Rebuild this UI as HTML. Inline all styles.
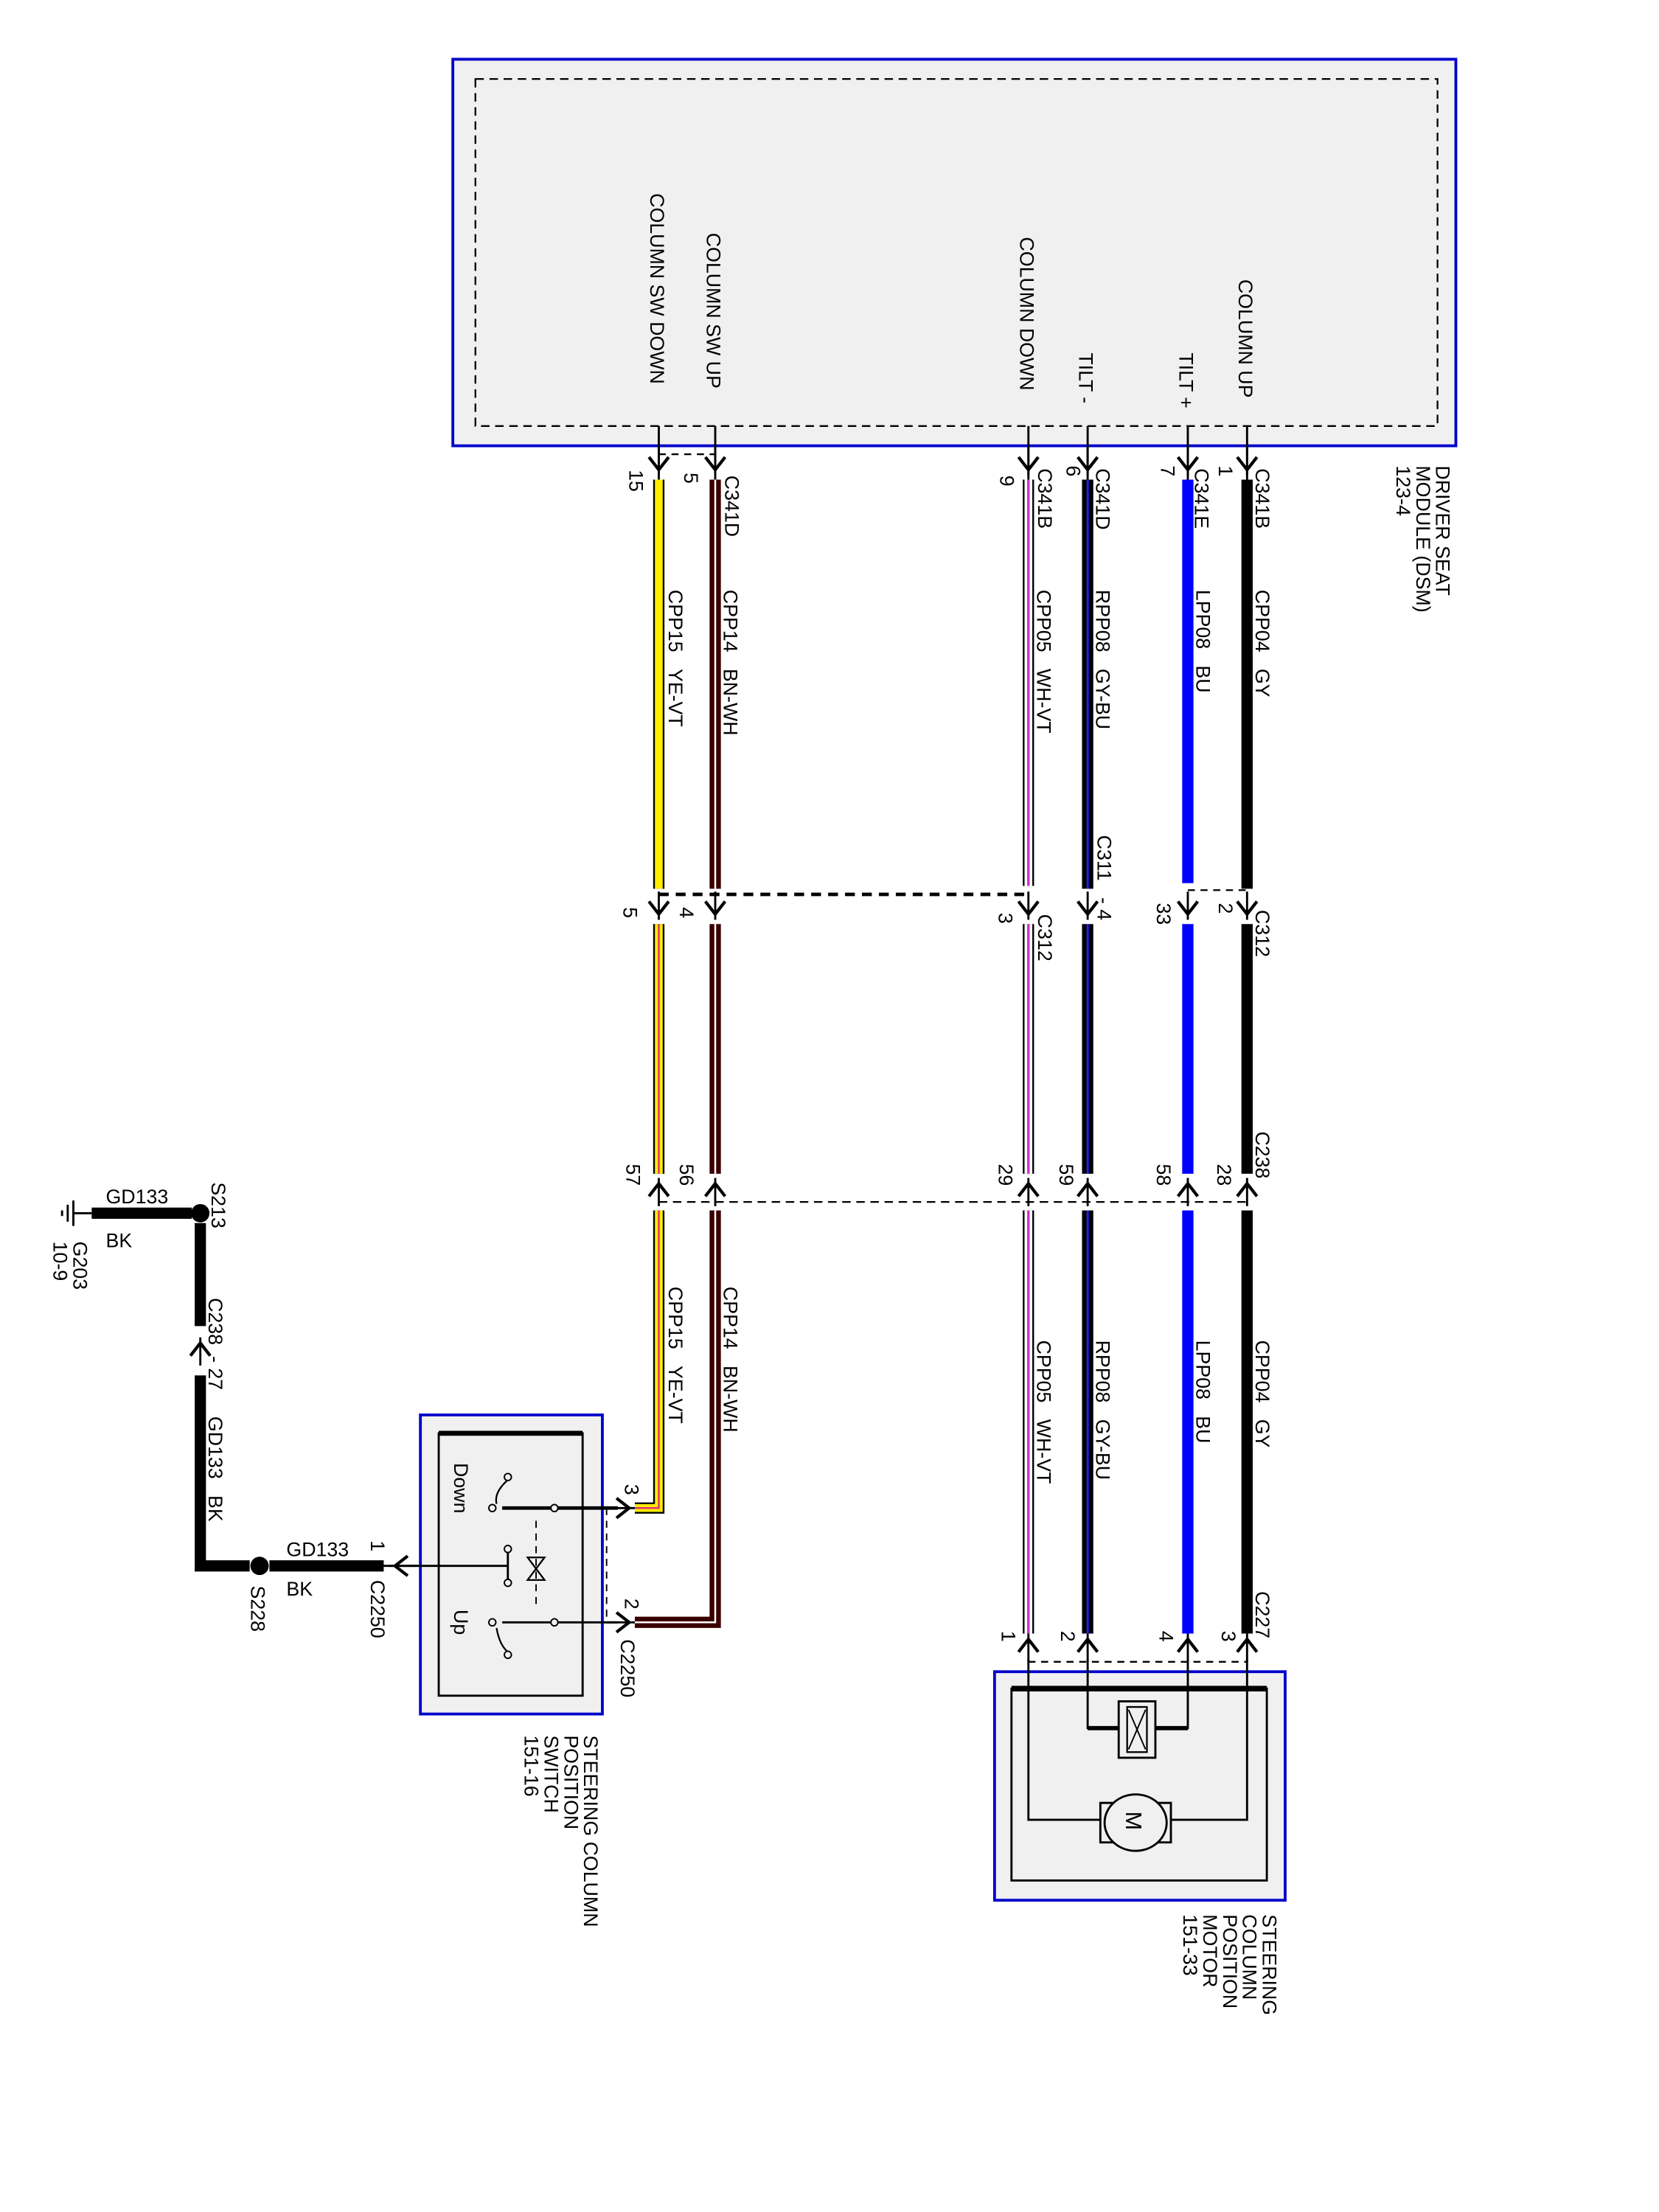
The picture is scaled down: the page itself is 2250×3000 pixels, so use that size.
<!DOCTYPE html>
<html><head><meta charset="utf-8"><style>
html,body{margin:0;padding:0;background:#fff}
svg{display:block}
text{font-family:"Liberation Sans",Arial,sans-serif;font-size:14px;fill:#000}
</style></head><body>
<svg width="2250" height="3000" viewBox="0 0 1176 1568" preserveAspectRatio="none" xmlns="http://www.w3.org/2000/svg">
<defs>
<g id="ad"><line x1="0" y1="-10" x2="0" y2="10" stroke="#000" stroke-width="1.5"/><path d="M-7,-3 L0,6 L7,-3" fill="none" stroke="#000" stroke-width="2.2"/></g>
<g id="au"><line x1="0" y1="-10" x2="0" y2="10" stroke="#000" stroke-width="1.5"/><path d="M-7,3 L0,-6 L7,3" fill="none" stroke="#000" stroke-width="2.2"/></g>
<g id="ar"><line x1="-10" y1="0" x2="10" y2="0" stroke="#000" stroke-width="1.5"/><path d="M-3,-7 L6,0 L-3,7" fill="none" stroke="#000" stroke-width="2.2"/></g>
<g id="al"><line x1="-10" y1="0" x2="10" y2="0" stroke="#000" stroke-width="1.5"/><path d="M3,-7 L-6,0 L3,7" fill="none" stroke="#000" stroke-width="2.2"/></g>
</defs>

<!-- DSM -->
<rect x="321" y="42" width="711" height="274" fill="#f0f0f0" stroke="#0000cc" stroke-width="2"/>
<rect x="337" y="56" width="682" height="246" fill="none" stroke="#000" stroke-width="1.2" stroke-dasharray="6,4"/>
<g stroke="#000" stroke-width="1.5">
<line x1="467" y1="302" x2="467" y2="340"/><line x1="507" y1="302" x2="507" y2="340"/>
<line x1="729" y1="302" x2="729" y2="340"/><line x1="771" y1="302" x2="771" y2="340"/>
<line x1="842" y1="302" x2="842" y2="340"/><line x1="884" y1="302" x2="884" y2="340"/>
</g>
<text transform="translate(461,137) rotate(90)">COLUMN SW DOWN</text>
<text transform="translate(501,165) rotate(90)">COLUMN SW UP</text>
<text transform="translate(723,168) rotate(90)">COLUMN DOWN</text>
<text transform="translate(765,250) rotate(90)">TILT -</text>
<text transform="translate(836,250) rotate(90)">TILT +</text>
<text transform="translate(878,198) rotate(90)">COLUMN UP</text>
<text transform="translate(1018,330) rotate(90)">DRIVER SEAT</text>
<text transform="translate(1004,330) rotate(90)">MODULE (DSM)</text>
<text transform="translate(990,330) rotate(90)">123-4</text>

<!-- dashed connector lines -->
<line x1="467" y1="322" x2="507" y2="322" stroke="#000" stroke-width="1.2" stroke-dasharray="5,4"/>
<line x1="467" y1="634" x2="729" y2="634" stroke="#000" stroke-width="2.5" stroke-dasharray="7,5"/>
<line x1="842" y1="631" x2="884" y2="631" stroke="#000" stroke-width="1.2" stroke-dasharray="5,4"/>
<line x1="467" y1="852" x2="884" y2="852" stroke="#000" stroke-width="1.2" stroke-dasharray="6,4"/>
<line x1="729" y1="1178" x2="884" y2="1178" stroke="#000" stroke-width="1.2" stroke-dasharray="5,4"/>

<!-- arrows -->
<g>
<use href="#ad" x="467" y="327"/><use href="#ad" x="507" y="327"/><use href="#ad" x="729" y="327"/><use href="#ad" x="771" y="327"/><use href="#ad" x="842" y="327"/><use href="#ad" x="884" y="327"/>
<use href="#ad" x="467" y="642"/><use href="#ad" x="507" y="642"/><use href="#ad" x="729" y="642"/><use href="#ad" x="771" y="642"/><use href="#ad" x="842" y="642"/><use href="#ad" x="884" y="642"/>
<use href="#au" x="467" y="845"/><use href="#au" x="507" y="845"/><use href="#au" x="729" y="845"/><use href="#au" x="771" y="845"/><use href="#au" x="842" y="845"/><use href="#au" x="884" y="845"/>
<use href="#au" x="729" y="1168"/><use href="#au" x="771" y="1168"/><use href="#au" x="842" y="1168"/><use href="#au" x="884" y="1168"/>
</g>

<g stroke-linecap="butt">
<line x1="884" y1="340" x2="884" y2="630" stroke="#000" stroke-width="8"/>
<line x1="884" y1="655" x2="884" y2="832" stroke="#000" stroke-width="8"/>
<line x1="884" y1="858" x2="884" y2="1158" stroke="#000" stroke-width="8"/>
<line x1="842" y1="340" x2="842" y2="626" stroke="#0000ff" stroke-width="8"/>
<line x1="842" y1="655" x2="842" y2="832" stroke="#0000ff" stroke-width="8"/>
<line x1="842" y1="858" x2="842" y2="1158" stroke="#0000ff" stroke-width="8"/>
<g stroke="#000" stroke-width="8"><line x1="771" y1="340" x2="771" y2="630"/><line x1="771" y1="655" x2="771" y2="832"/><line x1="771" y1="858" x2="771" y2="1158"/></g>
<g stroke="#2020ff" stroke-width="1.5"><line x1="771" y1="340" x2="771" y2="630"/><line x1="771" y1="655" x2="771" y2="832"/><line x1="771" y1="858" x2="771" y2="1158"/></g>
<g stroke="#000" stroke-width="8"><line x1="729" y1="340" x2="729" y2="628"/><line x1="729" y1="655" x2="729" y2="832"/><line x1="729" y1="858" x2="729" y2="1158"/></g>
<g stroke="#fff" stroke-width="5.5"><line x1="729" y1="340" x2="729" y2="628"/><line x1="729" y1="655" x2="729" y2="832"/><line x1="729" y1="858" x2="729" y2="1158"/></g>
<g stroke="#cc33cc" stroke-width="1.8"><line x1="729" y1="340" x2="729" y2="628"/><line x1="729" y1="655" x2="729" y2="832"/><line x1="729" y1="858" x2="729" y2="1158"/></g>
<g stroke="#3a0000" stroke-width="8" fill="none"><line x1="507" y1="340" x2="507" y2="630"/><line x1="507" y1="655" x2="507" y2="832"/><polyline points="507,858 507,1150 450,1150"/></g>
<g stroke="#fff" stroke-width="1.3" fill="none"><line x1="507" y1="340" x2="507" y2="630"/><line x1="507" y1="655" x2="507" y2="832"/><polyline points="507,858 507,1150 450,1150"/></g>
<g stroke="#000" stroke-width="8" fill="none"><line x1="467" y1="340" x2="467" y2="630"/><line x1="467" y1="655" x2="467" y2="832"/><polyline points="467,858 467,1069 450,1069"/></g>
<g stroke="#ffee00" stroke-width="5.5" fill="none"><line x1="467" y1="340" x2="467" y2="630"/><line x1="467" y1="655" x2="467" y2="832"/><polyline points="467,858 467,1069 450,1069"/></g>
<g stroke="#e0307a" stroke-width="1.3" fill="none"><line x1="467" y1="655" x2="467" y2="832"/><polyline points="467,858 467,1069 450,1069"/></g>
</g>

<text transform="translate(514,337) rotate(90)">C341D</text>
<text transform="translate(485,335) rotate(90)">5</text>
<text transform="translate(446,333) rotate(90)">15</text>
<text transform="translate(736,332) rotate(90)">C341B</text>
<text transform="translate(709,337) rotate(90)">9</text>
<text transform="translate(777,332) rotate(90)">C341D</text>
<text transform="translate(756,330) rotate(90)">6</text>
<text transform="translate(847,332) rotate(90)">C341E</text>
<text transform="translate(823,330) rotate(90)">7</text>
<text transform="translate(890,332) rotate(90)">C341B</text>
<text transform="translate(864,330) rotate(90)">1</text>

<text transform="translate(474,418) rotate(90)">CPP15&#160;&#160;&#160;YE-VT</text>
<text transform="translate(513,418) rotate(90)">CPP14&#160;&#160;&#160;BN-WH</text>
<text transform="translate(735,418) rotate(90)">CPP05&#160;&#160;&#160;WH-VT</text>
<text transform="translate(777,418) rotate(90)">RPP08&#160;&#160;&#160;GY-BU</text>
<text transform="translate(848,418) rotate(90)">LPP08&#160;&#160;&#160;BU</text>
<text transform="translate(890,418) rotate(90)">CPP04&#160;&#160;&#160;GY</text>
<text transform="translate(778,592) rotate(90)">C311&#160;&#160;&#160;- 4</text>

<text transform="translate(890,645) rotate(90)">C312</text>
<text transform="translate(864,640) rotate(90)">2</text>
<text transform="translate(820,640) rotate(90)">33</text>
<text transform="translate(736,648) rotate(90)">C312</text>
<text transform="translate(708,647) rotate(90)">3</text>
<text transform="translate(482,643) rotate(90)">4</text>
<text transform="translate(442,643) rotate(90)">5</text>

<text transform="translate(890,802) rotate(90)">C238</text>
<text transform="translate(863,825) rotate(90)">28</text>
<text transform="translate(820,825) rotate(90)">58</text>
<text transform="translate(751,825) rotate(90)">59</text>
<text transform="translate(708,825) rotate(90)">29</text>
<text transform="translate(482,825) rotate(90)">56</text>
<text transform="translate(444,825) rotate(90)">57</text>

<text transform="translate(474,912) rotate(90)">CPP15&#160;&#160;&#160;YE-VT</text>
<text transform="translate(513,912) rotate(90)">CPP14&#160;&#160;&#160;BN-WH</text>
<text transform="translate(735,950) rotate(90)">CPP05&#160;&#160;&#160;WH-VT</text>
<text transform="translate(777,950) rotate(90)">RPP08&#160;&#160;&#160;GY-BU</text>
<text transform="translate(848,950) rotate(90)">LPP08&#160;&#160;&#160;BU</text>
<text transform="translate(890,950) rotate(90)">CPP04&#160;&#160;&#160;GY</text>

<text transform="translate(890,1128) rotate(90)">C227</text>
<text transform="translate(866,1156) rotate(90)">3</text>
<text transform="translate(822,1156) rotate(90)">4</text>
<text transform="translate(752,1156) rotate(90)">2</text>
<text transform="translate(710,1156) rotate(90)">1</text>

<rect x="705" y="1185" width="206" height="162" fill="#f0f0f0" stroke="#0000cc" stroke-width="2"/>
<rect x="717" y="1197" width="181" height="136" fill="none" stroke="#000" stroke-width="1.5"/>
<line x1="717" y1="1197" x2="898" y2="1197" stroke="#000" stroke-width="4"/>
<g fill="none" stroke="#000" stroke-width="1.5">
<polyline points="729,1176 729,1290 784,1290"/>
<polyline points="884,1176 884,1290 826,1290"/>
<polyline points="771,1176 771,1225 793,1225"/>
<polyline points="842,1176 842,1225 819,1225"/>
</g>
<line x1="771" y1="1225" x2="793" y2="1225" stroke="#000" stroke-width="3"/>
<line x1="819" y1="1225" x2="842" y2="1225" stroke="#000" stroke-width="3"/>
<rect x="793" y="1206" width="26" height="40" fill="#f0f0f0" stroke="#000" stroke-width="1.5"/>
<rect x="799" y="1210" width="14" height="32" fill="none" stroke="#000" stroke-width="1.2"/>
<path d="M800,1212 L812,1240 M812,1212 L800,1240" stroke="#000" stroke-width="1"/>
<rect x="780" y="1278" width="50" height="28" fill="#f0f0f0" stroke="#000" stroke-width="1.5"/>
<ellipse cx="805" cy="1292" rx="22" ry="20" fill="#f0f0f0" stroke="#000" stroke-width="1.5"/>
<text transform="translate(798,1284) rotate(90)" style="font-size:16px">M</text>
<text transform="translate(895,1357) rotate(90)">STEERING</text>
<text transform="translate(881,1357) rotate(90)">COLUMN</text>
<text transform="translate(867,1357) rotate(90)">POSITION</text>
<text transform="translate(853,1357) rotate(90)">MOTOR</text>
<text transform="translate(839,1357) rotate(90)">151-33</text>

<rect x="298" y="1003" width="129" height="212" fill="#f0f0f0" stroke="#0000cc" stroke-width="2"/>
<rect x="311" y="1016" width="102" height="186" fill="none" stroke="#000" stroke-width="1.5"/>
<line x1="311" y1="1016" x2="413" y2="1016" stroke="#000" stroke-width="3.5"/>
<line x1="430" y1="1069" x2="430" y2="1150" stroke="#000" stroke-width="1" stroke-dasharray="5,4"/>
<g stroke="#000" fill="none">
<line x1="356" y1="1069" x2="438" y2="1069" stroke-width="2.5"/>
<line x1="356" y1="1150" x2="438" y2="1150" stroke-width="1.5"/>
<line x1="270" y1="1110" x2="360" y2="1110" stroke-width="1.5"/>
<line x1="360" y1="1098" x2="360" y2="1122" stroke-width="1.5"/>
<line x1="380" y1="1078" x2="380" y2="1140" stroke-width="1" stroke-dasharray="5,4"/>
<path d="M360,1049 Q350,1058 352,1066" stroke-width="1.2"/>
<path d="M352,1154 Q354,1166 360,1171" stroke-width="1.2"/>
<path d="M374,1104 L386,1104 L380,1112 Z M374,1120 L386,1120 L380,1112 Z" stroke-width="1.2"/>
</g>
<g fill="#f0f0f0" stroke="#000" stroke-width="1">
<circle cx="360" cy="1047" r="2.5"/><circle cx="349" cy="1069" r="2.5"/><circle cx="393" cy="1069" r="2.5"/>
<circle cx="360" cy="1098" r="2.5"/><circle cx="360" cy="1122" r="2.5"/>
<circle cx="349" cy="1150" r="2.5"/><circle cx="393" cy="1150" r="2.5"/><circle cx="360" cy="1173" r="2.5"/>
</g>
<text transform="translate(322,1037) rotate(90)">Down</text>
<text transform="translate(322,1141) rotate(90)">Up</text>
<use href="#ar" x="440" y="1069"/>
<use href="#ar" x="440" y="1150"/>
<text transform="translate(443,1052) rotate(90)">3</text>
<text transform="translate(443,1133) rotate(90)">2</text>
<text transform="translate(440,1162) rotate(90)">C2250</text>
<text transform="translate(414,1230) rotate(90)">STEERING COLUMN</text>
<text transform="translate(400,1230) rotate(90)">POSITION</text>
<text transform="translate(386,1230) rotate(90)">SWITCH</text>
<text transform="translate(372,1230) rotate(90)">151-16</text>

<use href="#al" x="286" y="1110"/>
<g stroke="#000" stroke-width="8" fill="none" stroke-linecap="butt">
<line x1="191" y1="1110" x2="272" y2="1110"/>
<polyline points="177,1110 142,1110 142,975"/>
<line x1="142" y1="940" x2="142" y2="867"/>
<line x1="65" y1="860" x2="136" y2="860"/>
</g>
<use href="#au" x="142" y="958"/>
<circle cx="184" cy="1110" r="6.5" fill="#000"/>
<circle cx="142" cy="860" r="6.5" fill="#000"/>
<g stroke="#000" stroke-width="1.5">
<line x1="52" y1="860" x2="65" y2="860"/>
<line x1="52" y1="851" x2="52" y2="869"/>
<line x1="48" y1="854" x2="48" y2="866"/>
<line x1="44" y1="858" x2="44" y2="862"/>
</g>
<text x="75" y="853">GD133</text>
<text x="75" y="884">BK</text>
<text transform="translate(150,838) rotate(90)">S213</text>
<text transform="translate(52,880) rotate(90)">G203</text>
<text transform="translate(38,880) rotate(90)">10-9</text>
<text transform="translate(148,920) rotate(90)">C238&#160;&#160;- 27</text>
<text transform="translate(148,1004) rotate(90)">GD133&#160;&#160;&#160;BK</text>
<text x="203" y="1103">GD133</text>
<text x="203" y="1131">BK</text>
<text transform="translate(178,1124) rotate(90)">S228</text>
<text transform="translate(263,1092) rotate(90)">1</text>
<text transform="translate(263,1120) rotate(90)">C2250</text>
</svg>
</body></html>
